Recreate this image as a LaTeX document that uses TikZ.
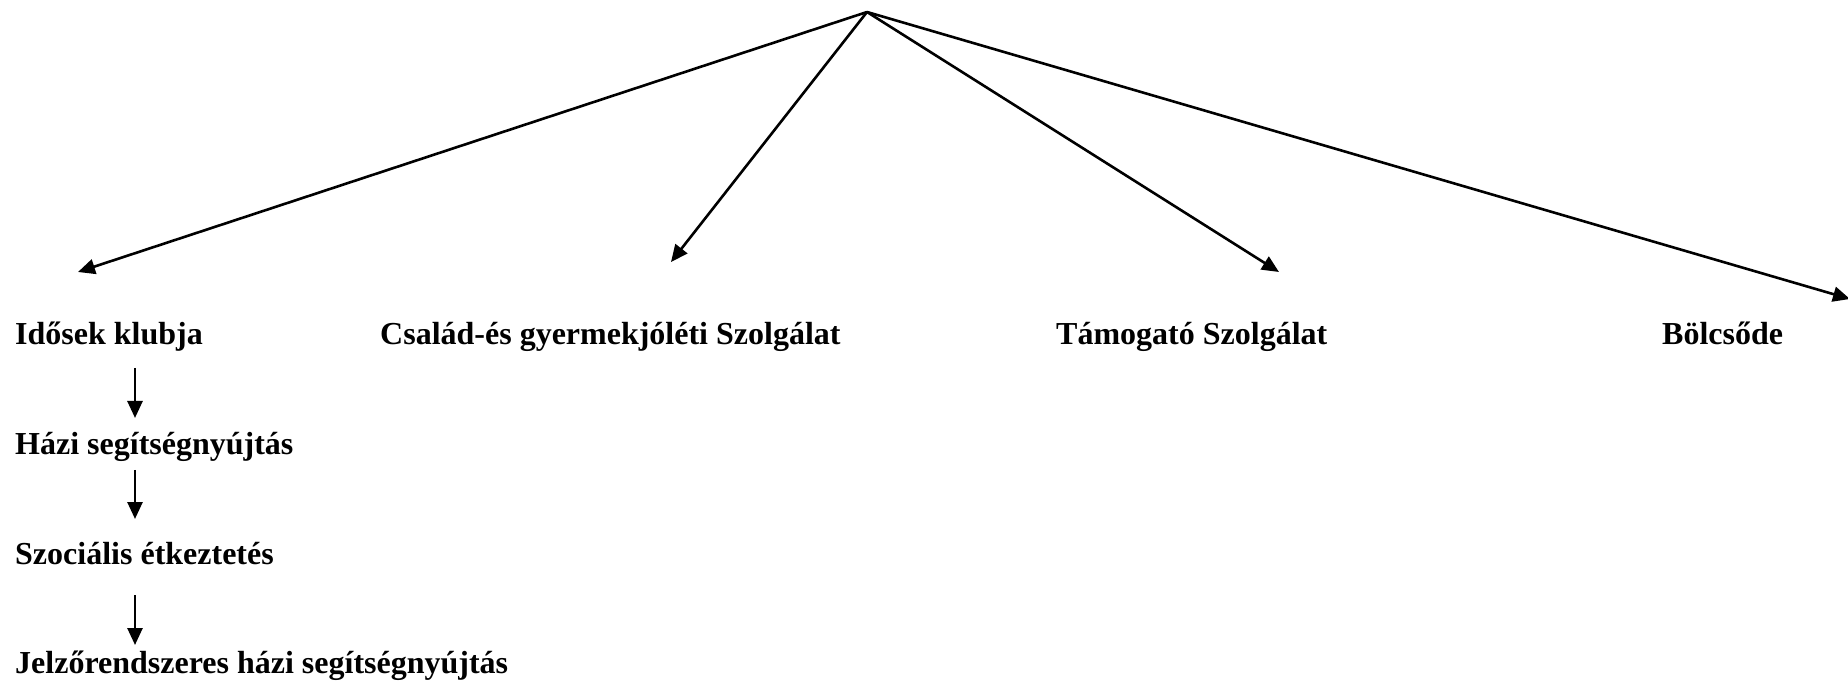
\documentclass[tikz,border=0pt]{standalone}
\usepackage{fontspec}
\setmainfont{Liberation Serif}
\usetikzlibrary{arrows.meta}
\begin{document}
\begin{tikzpicture}[x=1pt,y=-1pt,
  lbl/.style={anchor=base west,inner sep=0pt,font=\fontsize{32}{38}\selectfont\bfseries},
  arr/.style={line width=2.6pt,-{Triangle[length=17pt,width=15pt]}}]
\useasboundingbox (0,0) rectangle (1848,684);
\coordinate (apex) at (867,12);
\node[lbl] (idosek) at (15,345) {Idősek klubja};
\node[lbl] (csalad) at (380,345) {Család-és gyermekjóléti Szolgálat};
\node[lbl] (tamogato) at (1056,345) {Támogató Szolgálat};
\node[lbl] (bolcsode) at (1662,345) {Bölcsőde};
\node[lbl] (hazi) at (15,454) {Házi segítségnyújtás};
\node[lbl] (szoc) at (15,564) {Szociális étkeztetés};
\node[lbl] (jelzo) at (15,673) {Jelzőrendszeres házi segítségnyújtás};
\coordinate (e1) at (78,272);
\coordinate (e2) at (671,262);
\coordinate (e3) at (1279,272);
\coordinate (e4) at (1850,299);
\draw[arr] (apex) -- (e1);
\draw[arr] (apex) -- (e2);
\draw[arr] (apex) -- (e3);
\draw[arr] (apex) -- (e4);
\coordinate (v1a) at (135,368);
\coordinate (v1b) at (135,418);
\coordinate (v2a) at (135,470);
\coordinate (v2b) at (135,519);
\coordinate (v3a) at (135,595);
\coordinate (v3b) at (135,645);
\draw[arr] (v1a) -- (v1b);
\draw[arr] (v2a) -- (v2b);
\draw[arr] (v3a) -- (v3b);
\end{tikzpicture}
\end{document}
